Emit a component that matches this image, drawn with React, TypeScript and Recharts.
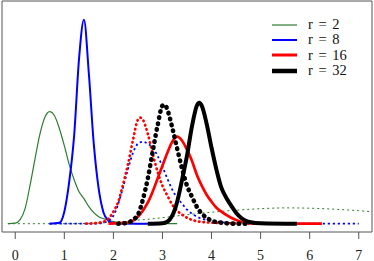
import React from 'react';
import { LineChart, Line, XAxis, YAxis, ReferenceArea } from 'recharts';

const X_TICKS = [0, 1, 2, 3, 4, 5, 6, 7];

const greenSolidX = [-0.15, 0, 0.1, 0.2, 0.3, 0.4, 0.5, 0.6, 0.7, 0.8, 0.9, 1.0, 1.1, 1.2, 1.3, 1.4, 1.5, 1.6, 1.7, 1.8, 2.0, 2.2, 2.5, 3.3];
const greenSolidY = [0, 0.5, 4, 15, 38, 64, 89, 106, 112, 108, 95, 78, 59, 44, 32, 25, 17, 11, 7, 5, 2, 1, 0, 0];

const greenDotX = [-0.15, 1.0, 1.5, 2.0, 2.5, 3.0, 3.5, 4.0, 4.5, 5.0, 5.5, 6.0, 6.5, 7.0, 7.27];
const greenDotY = [0, 0, 0.3, 1.5, 3.5, 6, 9, 11.5, 13.5, 15, 15.8, 15.5, 14.5, 13, 12];

const blueSolidX = [0.7, 0.9, 1.0, 1.1, 1.2, 1.3, 1.4, 1.5, 1.6, 1.7, 1.8, 1.9, 2.0, 2.7];
const blueSolidY = [0, 1, 12, 42, 88, 165, 204, 150, 80, 35, 11, 3, 0.5, 0];

const blueDotX = [0.7, 1.6, 1.8, 1.9, 2.0, 2.1, 2.2, 2.3, 2.4, 2.5, 2.6, 2.7, 2.8, 2.9, 3.0, 3.1, 3.2, 3.3, 3.4, 3.5, 3.6, 3.7, 3.8, 4.0, 4.2, 4.5, 5.0, 7.0];
const blueDotY = [0, 0, 1, 3, 8, 20, 37, 55, 71, 80, 82, 80, 76, 68, 57, 45, 34, 26, 20, 14, 10, 7, 5, 3, 1.5, 0.5, 0, 0];

const redSolidX = [1.9, 2.3, 2.4, 2.5, 2.6, 2.7, 2.8, 2.9, 3.0, 3.1, 3.2, 3.3, 3.4, 3.5, 3.6, 3.7, 3.8, 3.9, 4.0, 4.1, 4.2, 4.4, 4.6, 4.8, 5.0, 6.25];
const redSolidY = [0, 1, 3, 7, 13, 21, 32, 45, 58, 71, 82, 87, 83, 74, 63, 49, 38, 29, 22, 16, 12, 6, 2, 0.5, 0, 0];

const redDotX = [1.45, 1.7, 1.8, 1.9, 2.0, 2.1, 2.2, 2.3, 2.4, 2.5, 2.55, 2.6, 2.7, 2.8, 2.9, 3.0, 3.1, 3.2, 3.3, 3.4, 3.5, 3.7, 4.0, 4.5, 5.0];
const redDotY = [0, 1, 2, 5, 12, 22, 40, 60, 84, 104, 106, 104, 90, 70, 52, 38, 28, 19, 13, 9, 6, 2.5, 1, 0.3, 0];

const blackSolidX = [2.7, 3.0, 3.1, 3.2, 3.3, 3.4, 3.5, 3.6, 3.7, 3.75, 3.8, 3.9, 4.0, 4.1, 4.2, 4.3, 4.4, 4.5, 4.6, 4.7, 4.8, 5.0, 5.74];
const blackSolidY = [0, 0.5, 2, 8, 22, 44, 68, 97, 118, 121, 118, 100, 76, 54, 36, 26, 18, 11, 6, 3, 1.5, 0.5, 0];

const blackDotX = [2.1, 2.3, 2.4, 2.5, 2.6, 2.7, 2.8, 2.9, 3.0, 3.05, 3.1, 3.2, 3.3, 3.4, 3.5, 3.6, 3.7, 3.8, 3.9, 4.0, 4.2, 4.5, 4.7];
const blackDotY = [0, 1, 4, 9, 24, 45, 72, 98, 118, 119, 114, 96, 75, 55, 38, 27, 17, 10, 6, 3, 1, 0, 0];

const legendLabels = ['r = 2', 'r = 8', 'r = 16', 'r = 32'];
const legendColors = ['#2e7d2e', '#0000ff', '#ff0000', '#000000'];
const legendWidths = [1.2, 2, 3, 4.5];

const zip = (xs: number[], ys: number[]) => xs.map((x, i) => ({ x, y: ys[i] }));

const X_DOMAIN: [number, number] = [-0.27, 7.27];
const Y_DOMAIN: [number, number] = [-8.3, 222.7];

const FONT = '"Liberation Serif", "Times New Roman", serif';

const LegendBox = () => (
  <div style={{ position: 'absolute', left: 272, top: 17, width: 100, fontFamily: FONT, fontSize: 14.5, color: '#111' }}>
    {legendLabels.map((lab, i) => (
      <div key={lab} style={{ display: 'flex', alignItems: 'center', height: 15.3 }}>
        <svg width={25} height={8} style={{ display: 'block' }}>
          <line x1={0} y1={4} x2={25} y2={4} stroke={legendColors[i]} strokeWidth={legendWidths[i]} />
        </svg>
        <span style={{ marginLeft: 11, wordSpacing: 2, lineHeight: '15px' }}>{lab}</span>
      </div>
    ))}
  </div>
);

const Tick = (props: any) => {
  const { x, y, payload } = props;
  return (
    <text x={x} y={y + 8.5} textAnchor="middle" fontFamily={FONT} fontSize={14} fill="#222">
      {payload.value}
    </text>
  );
};

export default function App() {
  const series = [
    { d: zip(greenDotX, greenDotY), c: '#2e7d2e', w: 1, dash: '2 3', cap: 'butt' },
    { d: zip(greenSolidX, greenSolidY), c: '#2e7d2e', w: 1.2, dash: undefined, cap: 'butt' },
    { d: zip(blueDotX, blueDotY), c: '#0000ff', w: 1.8, dash: '2.2 2.8', cap: 'butt' },
    { d: zip(blueSolidX, blueSolidY), c: '#0000ff', w: 2, dash: undefined, cap: 'butt' },
    { d: zip(redDotX, redDotY), c: '#ff0000', w: 2.7, dash: '0.5 4', cap: 'round' },
    { d: zip(redSolidX, redSolidY), c: '#ff0000', w: 2.7, dash: undefined, cap: 'butt' },
    { d: zip(blackDotX, blackDotY), c: '#000000', w: 4.6, dash: '0.5 5.6', cap: 'round' },
    { d: zip(blackSolidX, blackSolidY), c: '#000000', w: 4, dash: undefined, cap: 'butt' },
  ];
  return (
    <div style={{ position: 'absolute', left: 0, top: 0, width: 374, height: 261, background: '#fff' }}>
      <LineChart
        width={374}
        height={261}
        margin={{ top: 1, right: 2, bottom: 0, left: 2 }}
        style={{ fontFamily: FONT, fontSize: 13 }}
      >
        <XAxis
          type="number"
          dataKey="x"
          domain={X_DOMAIN}
          ticks={X_TICKS}
          allowDataOverflow
          axisLine={false}
          tickLine={{ stroke: '#555' }}
          tickSize={7}
          tickMargin={12}
          height={29}
          tick={<Tick />}
        />
        <YAxis type="number" dataKey="y" domain={Y_DOMAIN} hide allowDataOverflow />
        <ReferenceArea
          x1={X_DOMAIN[0]}
          x2={X_DOMAIN[1]}
          y1={Y_DOMAIN[0]}
          y2={Y_DOMAIN[1]}
          fill="none"
          stroke="#555"
          strokeWidth={1}
          ifOverflow="visible"
        />
        {series.map((s, i) => (
          <Line
            key={i}
            data={s.d}
            dataKey="y"
            type="monotone"
            stroke={s.c}
            strokeWidth={s.w}
            strokeDasharray={s.dash}
            strokeLinecap={s.cap as any}
            dot={false}
            activeDot={false}
            isAnimationActive={false}
            legendType="none"
          />
        ))}
      </LineChart>
      <LegendBox />
    </div>
  );
}
